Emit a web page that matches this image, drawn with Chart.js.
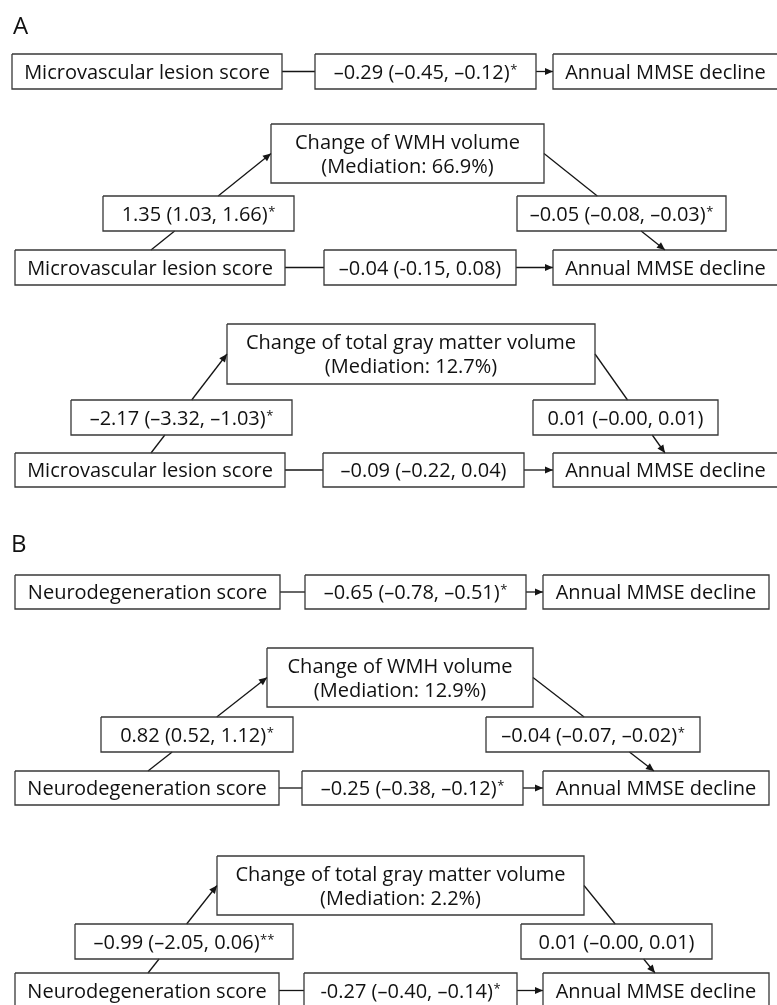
<!DOCTYPE html>
<html><head><meta charset="utf-8">
<script src="https://cdn.jsdelivr.net/npm/chart.js@4.4.0/dist/chart.umd.min.js"></script>
<style>html,body{margin:0;padding:0;background:#fff;overflow:hidden}canvas{display:block}</style>
</head><body>
<canvas id="c" width="777" height="1005"></canvas>
<script>
// ---------- DATA ----------
const panelLabels = ['A', 'B'];
const exposureNames = ['Microvascular lesion score', 'Neurodegeneration score'];
const outcomeName = 'Annual MMSE decline';
const mediatorNames = ['Change of WMH volume', 'Change of total gray matter volume'];
const mediationPct = [[66.9, 12.7], [12.9, 2.2]];
const totalEffect = ['–0.29 (–0.45, –0.12)*', '–0.65 (–0.78, –0.51)*'];
const aPath = [['1.35 (1.03, 1.66)*', '–2.17 (–3.32, –1.03)*'], ['0.82 (0.52, 1.12)*', '–0.99 (–2.05, 0.06)**']];
const bPath = [['–0.05 (–0.08, –0.03)*', '0.01 (–0.00, 0.01)'], ['–0.04 (–0.07, –0.02)*', '0.01 (–0.00, 0.01)']];
const directEffect = [['–0.04 (-0.15, 0.08)', '–0.09 (–0.22, 0.04)'], ['–0.25 (–0.38, –0.12)*', '-0.27 (–0.40, –0.14)*']];

// ---------- LAYOUT (diagram geometry in axis units) ----------
const W = 777, H = 1005;
const panelPos = [[13, 34], [11, 552]];
const totalLayout = [
  {y: [54, 89], left: [12, 282], mid: [315, 536], right: [553, 778]},
  {y: [575, 609], left: [15, 280], mid: [305, 526], right: [543, 769]}
];
const medLayout = [
  [
    {top: [271, 544, 124, 183], cL: [103, 294, 196, 231], cR: [517, 726, 196, 231], row: [250, 285], left: [15, 285], mid: [324, 516], right: [553, 778], aX: 151, bX: 665},
    {top: [227, 595, 324, 384], cL: [71, 292, 400, 435], cR: [533, 718, 400, 435], row: [453, 487], left: [15, 285], mid: [323, 524], right: [553, 778], aX: 151, bX: 665}
  ],
  [
    {top: [267, 533, 648, 707], cL: [101, 293, 717, 752], cR: [486, 700, 717, 752], row: [771, 805], left: [15, 279], mid: [302, 523], right: [543, 769], aX: 148, bX: 654},
    {top: [217, 584, 856, 915], cL: [75, 293, 924, 959], cR: [521, 712, 924, 959], row: [973, 1008], left: [15, 279], mid: [304, 517], right: [543, 769], aX: 148, bX: 655}
  ]
];
const FONT = '"Open Sans"';
const INK = '#111111', EDGE = '#383838', LINE = '#151515';

// ---------- BUILD ----------
const nodes = [], segs = [], arrows = [];
function node(x0, x1, y0, y1, lines) { const n = {x0, x1, y0, y1, lines}; nodes.push(n); return n; }
function lerpX(a, b, yy) { return a[0] + (b[0] - a[0]) * (yy - a[1]) / (b[1] - a[1]); }
function diag(from, to, box) {
  const yA = from[1] > to[1] ? box.y1 : box.y0;
  const yB = from[1] > to[1] ? box.y0 : box.y1;
  segs.push([from, [lerpX(from, to, yA), yA]]);
  segs.push([[lerpX(from, to, yB), yB], to]);
  arrows.push({from, to});
}
function row(y, l, m, r, lName, mText, rName) {
  const ym = (y[0] + y[1]) / 2;
  node(l[0], l[1], y[0], y[1], [lName]);
  node(m[0], m[1], y[0], y[1], [mText]);
  node(r[0], r[1], y[0], y[1], [rName]);
  segs.push([[l[1], ym], [m[0], ym]]);
  segs.push([[m[1], ym], [r[0], ym]]);
  arrows.push({from: [m[1], ym], to: [r[0], ym]});
}
panelLabels.forEach((p, pi) => {
  const T = totalLayout[pi];
  row(T.y, T.left, T.mid, T.right, exposureNames[pi], totalEffect[pi], outcomeName);
  mediatorNames.forEach((mName, mi) => {
    const M = medLayout[pi][mi];
    const top = node(M.top[0], M.top[1], M.top[2], M.top[3], [mName, '(Mediation: ' + mediationPct[pi][mi].toFixed(1) + '%)']);
    const cl = node(M.cL[0], M.cL[1], M.cL[2], M.cL[3], [aPath[pi][mi]]);
    const cr = node(M.cR[0], M.cR[1], M.cR[2], M.cR[3], [bPath[pi][mi]]);
    row(M.row, M.left, M.mid, M.right, exposureNames[pi], directEffect[pi][mi], outcomeName);
    const tm = (top.y0 + top.y1) / 2;
    diag([M.aX, M.row[0]], [top.x0, tm], cl);
    diag([top.x1, tm], [M.bX, M.row[0]], cr);
  });
});

const datasets = [];
segs.forEach(s => datasets.push({
  data: [{x: s[0][0], y: s[0][1]}, {x: s[1][0], y: s[1][1]}],
  showLine: true, borderColor: LINE, borderWidth: 1.3, pointRadius: 0, fill: false, order: 2
}));
nodes.forEach(n => datasets.push({
  data: [{x: n.x0, y: n.y0}, {x: n.x1, y: n.y0}, {x: n.x1, y: n.y1}, {x: n.x0, y: n.y1}, {x: n.x0, y: n.y0}],
  showLine: true, borderColor: EDGE, borderWidth: 1.3, pointRadius: 0, fill: false, order: 1,
  borderJoinStyle: 'miter'
}));

function drawLabel(ctx, t, cx, base) {
  const m = t.match(/^(.*?)(\*+)$/);
  const main = m ? m[1] : t, star = m ? m[2] : '';
  ctx.font = '20px ' + FONT;
  const w1 = ctx.measureText(main).width;
  ctx.font = '13px ' + FONT;
  const w2 = star ? ctx.measureText(star).width + 0.5 : 0;
  const x0 = cx - (w1 + w2) / 2;
  ctx.textAlign = 'left';
  ctx.font = '20px ' + FONT;
  ctx.fillText(main, x0, base);
  if (star) { ctx.font = '13px ' + FONT; ctx.fillText(star, x0 + w1 + 0.5, base - 5); }
}

const diagramText = {
  id: 'diagramText',
  afterDatasetsDraw(chart) {
    const {ctx, scales: {x, y}} = chart;
    const px = v => x.getPixelForValue(v), py = v => y.getPixelForValue(v);
    ctx.save();
    ctx.fillStyle = INK; ctx.textBaseline = 'alphabetic';
    nodes.forEach(n => {
      const cx = px((n.x0 + n.x1) / 2), cy = py((n.y0 + n.y1) / 2);
      const k = n.lines.length;
      n.lines.forEach((t, i) => drawLabel(ctx, t, cx, cy + (i - (k - 1) / 2) * 24 + 7.2));
    });
    ctx.textAlign = 'left'; ctx.font = '24px ' + FONT;
    panelLabels.forEach((p, i) => ctx.fillText(p, px(panelPos[i][0]), py(panelPos[i][1])));
    ctx.fillStyle = LINE;
    arrows.forEach(a => {
      const tx = px(a.to[0]), ty = py(a.to[1]), fx = px(a.from[0]), fy = py(a.from[1]);
      const ang = Math.atan2(ty - fy, tx - fx), L = 8, w = 3.6;
      const c = Math.cos(ang), s = Math.sin(ang);
      ctx.beginPath();
      ctx.moveTo(tx, ty);
      ctx.lineTo(tx - L * c + w * s, ty - L * s - w * c);
      ctx.lineTo(tx - L * c - w * s, ty - L * s + w * c);
      ctx.closePath(); ctx.fill();
    });
    ctx.restore();
  }
};

new Chart(document.getElementById('c'), {
  type: 'scatter',
  data: {datasets},
  options: {
    responsive: false, animation: false, devicePixelRatio: 1,
    layout: {padding: 0},
    plugins: {legend: {display: false}, tooltip: {enabled: false}},
    elements: {line: {tension: 0}, point: {radius: 0}},
    scales: {
      x: {type: 'linear', min: 0, max: W, display: false},
      y: {type: 'linear', min: 0, max: H, reverse: true, display: false}
    }
  },
  plugins: [diagramText]
});
</script>
</body></html>
